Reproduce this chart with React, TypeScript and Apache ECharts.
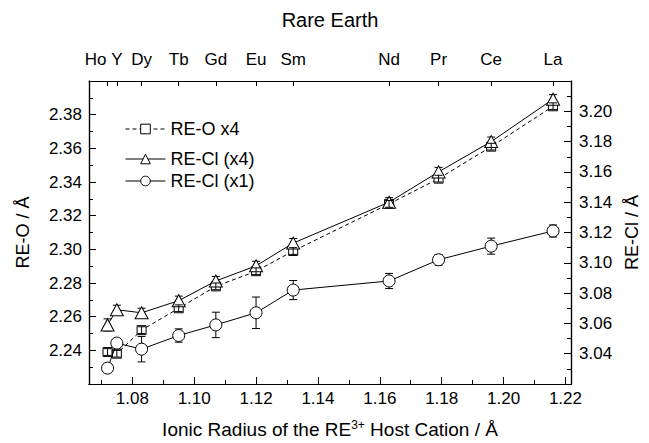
import React, { useEffect, useRef } from "react";
import * as echarts from "echarts";

// Rare earth cations and their ionic radii (Å)
const elements = ["Ho", "Y", "Dy", "Tb", "Gd", "Eu", "Sm", "Nd", "Pr", "Ce", "La"];
const radii = [1.072, 1.075, 1.083, 1.095, 1.107, 1.12, 1.132, 1.163, 1.179, 1.196, 1.216];

// RE-O x4 (left axis)
const reO = [2.239, 2.238, 2.252, 2.265, 2.278, 2.287, 2.299, 2.327, 2.342, 2.361, 2.385];
const reOErr = [0.002, 0.002, 0.002, 0.002, 0.002, 0.002, 0.002, 0.002, 0.002, 0.002, 0.002];

// RE-Cl (x4) (right axis)
const reCl4 = [3.059, 3.069, 3.067, 3.075, 3.088, 3.098, 3.113, 3.14, 3.16, 3.18, 3.208];
const reCl4Err = [0.004, 0.003, 0.003, 0.003, 0.003, 0.003, 0.003, 0.003, 0.003, 0.003, 0.003];

// RE-Cl (x1) (right axis)
const reCl1 = [3.0305, 3.047, 3.043, 3.052, 3.059, 3.067, 3.082, 3.088, 3.102, 3.111, 3.121];
const reCl1Err = [0.003, 0.003, 0.0084, 0.0044, 0.0084, 0.0104, 0.0063, 0.005, 0.0035, 0.0053, 0.004];

// Tick values
const bottomMajor = [1.08, 1.1, 1.12, 1.14, 1.16, 1.18, 1.2, 1.22];
const bottomMinor = [1.07, 1.09, 1.11, 1.13, 1.15, 1.17, 1.19, 1.21];
const leftMajor = [2.24, 2.26, 2.28, 2.3, 2.32, 2.34, 2.36, 2.38];
const leftMinor = [2.23, 2.25, 2.27, 2.29, 2.31, 2.33, 2.35, 2.37, 2.39];
const rightMajor = [3.04, 3.06, 3.08, 3.1, 3.12, 3.14, 3.16, 3.18, 3.2];
const rightMinor = [3.03, 3.05, 3.07, 3.09, 3.11, 3.13, 3.15, 3.17, 3.19, 3.21];

const FONT = "'Liberation Sans', Arial, Helvetica, sans-serif";
const BLACK = "#000";

function fmt2(v: number) {
  return v.toFixed(2);
}

function errRender(params: any, api: any) {
  const x = api.value(0);
  const y = api.value(1);
  const e = api.value(2);
  const lo = api.coord([x, y - e]);
  const hi = api.coord([x, y + e]);
  const w = 4;
  const st = { stroke: BLACK, lineWidth: 1 };
  return {
    type: "group",
    children: [
      { type: "line", shape: { x1: lo[0], y1: lo[1], x2: hi[0], y2: hi[1] }, style: st },
      { type: "line", shape: { x1: lo[0] - w, y1: lo[1], x2: lo[0] + w, y2: lo[1] }, style: st },
      { type: "line", shape: { x1: hi[0] - w, y1: hi[1], x2: hi[0] + w, y2: hi[1] }, style: st },
    ],
  };
}

export default function App() {
  const ref = useRef<HTMLDivElement>(null);

  useEffect(() => {
    if (!ref.current) return;
    const chart = echarts.init(ref.current, null, { renderer: "svg" });

    const xMin = 1.066;
    const xMax = 1.2218;

    const baseValueAxis = {
      type: "value",
      splitLine: { show: false },
      axisLine: { show: true, onZero: false, lineStyle: { color: BLACK, width: 1.2 } },
    };

    const legendBase = {
      left: 120,
      itemWidth: 40,
      itemHeight: 12,
      textStyle: { fontFamily: FONT, fontSize: 18, color: BLACK },
      selectedMode: false,
      lineStyle: { width: 1 },
      itemStyle: { borderWidth: 1 },
    };

    const option: any = {
      animation: false,
      backgroundColor: "#fff",
      textStyle: { fontFamily: FONT, color: BLACK },
      grid: {
        left: 89,
        right: 78,
        top: 81,
        bottom: 59,
        containLabel: false,
        outerBoundsMode: "none",
      },
      legend: [
        { ...legendBase, data: ["RE-O x4"], top: 115 },
        { ...legendBase, data: ["RE-Cl (x4)"], top: 145 },
        { ...legendBase, data: ["RE-Cl (x1)"], top: 167 },
      ],
      xAxis: [
        {
          ...baseValueAxis,
          position: "bottom",
          min: xMin,
          max: xMax,
          axisTick: { show: true, inside: true, length: 7, customValues: bottomMajor, lineStyle: { color: BLACK } },
          axisLabel: {
            customValues: bottomMajor,
            formatter: fmt2,
            fontFamily: FONT,
            fontSize: 17,
            color: BLACK,
            margin: 6,
          },
          name: "Ionic Radius of the RE{sup|3+} Host Cation / Å",
          nameLocation: "middle",
          nameGap: 35,
          nameTextStyle: {
            fontFamily: FONT,
            fontSize: 19,
            color: BLACK,
            rich: {
              sup: { fontFamily: FONT, fontSize: 12, color: BLACK, verticalAlign: "top", padding: [0, 0, 9, 0] },
            },
          },
        },
        {
          ...baseValueAxis,
          position: "bottom",
          min: xMin,
          max: xMax,
          axisTick: { show: true, inside: true, length: 4, customValues: bottomMinor, lineStyle: { color: BLACK } },
          axisLabel: { show: false },
        },
        {
          ...baseValueAxis,
          position: "top",
          min: xMin,
          max: xMax,
          axisTick: { show: true, inside: true, length: 5, customValues: radii, lineStyle: { color: BLACK } },
          axisLabel: {
            customValues: radii,
            fontFamily: FONT,
            fontSize: 17,
            color: BLACK,
            margin: 13,
            formatter: (v: number) => {
              const i = radii.findIndex((r) => Math.abs(r - v) < 1e-6);
              const n = i >= 0 ? elements[i] : "";
              return n === "Ho" ? "{ho|Ho}" : n;
            },
            rich: {
              ho: { fontFamily: FONT, fontSize: 17, color: BLACK, padding: [0, 24, 0, 0] },
            },
          },
          name: "Rare Earth",
          nameLocation: "middle",
          nameGap: 51,
          nameTextStyle: { fontFamily: FONT, fontSize: 20, color: BLACK },
        },
      ],
      yAxis: [
        {
          ...baseValueAxis,
          position: "left",
          min: 2.22,
          max: 2.4,
          axisTick: { show: true, inside: true, length: 7, customValues: leftMajor, lineStyle: { color: BLACK } },
          axisLabel: {
            customValues: leftMajor,
            formatter: fmt2,
            fontFamily: FONT,
            fontSize: 17,
            color: BLACK,
            margin: 7,
          },
          name: "RE-O / Å",
          nameLocation: "middle",
          nameRotate: 90,
          nameGap: 57,
          nameTextStyle: { fontFamily: FONT, fontSize: 18, color: BLACK },
        },
        {
          ...baseValueAxis,
          position: "left",
          min: 2.22,
          max: 2.4,
          axisTick: { show: true, inside: true, length: 4, customValues: leftMinor, lineStyle: { color: BLACK } },
          axisLabel: { show: false },
        },
        {
          ...baseValueAxis,
          position: "right",
          min: 3.02,
          max: 3.22,
          axisTick: { show: true, inside: true, length: 7, customValues: rightMajor, lineStyle: { color: BLACK } },
          axisLabel: {
            customValues: rightMajor,
            formatter: fmt2,
            fontFamily: FONT,
            fontSize: 17,
            color: BLACK,
            margin: 8,
          },
          name: "RE-Cl / Å",
          nameLocation: "middle",
          nameRotate: 90,
          nameGap: 51,
          nameTextStyle: { fontFamily: FONT, fontSize: 18, color: BLACK },
        },
        {
          ...baseValueAxis,
          position: "right",
          min: 3.02,
          max: 3.22,
          axisTick: { show: true, inside: true, length: 4, customValues: rightMinor, lineStyle: { color: BLACK } },
          axisLabel: { show: false },
        },
      ],
      series: [
        {
          name: "RE-O x4",
          type: "line",
          xAxisIndex: 0,
          yAxisIndex: 0,
          data: radii.map((r, i) => [r, reO[i]]),
          symbol: "rect",
          symbolSize: 9,
          lineStyle: { color: BLACK, width: 1, type: [4, 3] },
          itemStyle: { color: "#fff", borderColor: BLACK, borderWidth: 1 },
          z: 2,
        },
        {
          type: "custom",
          xAxisIndex: 0,
          yAxisIndex: 0,
          data: radii.map((r, i) => [r, reO[i], reOErr[i]]),
          renderItem: errRender,
          z: 4,
          silent: true,
        },
        {
          name: "RE-Cl (x4)",
          type: "line",
          xAxisIndex: 0,
          yAxisIndex: 2,
          data: radii.map((r, i) => [r, reCl4[i]]),
          symbol: "triangle",
          symbolSize: [13, 12],
          lineStyle: { color: BLACK, width: 1 },
          itemStyle: { color: "#fff", borderColor: BLACK, borderWidth: 1 },
          z: 3,
        },
        {
          type: "custom",
          xAxisIndex: 0,
          yAxisIndex: 2,
          data: radii.map((r, i) => [r, reCl4[i], reCl4Err[i]]),
          renderItem: errRender,
          z: 2,
          silent: true,
        },
        {
          name: "RE-Cl (x1)",
          type: "line",
          xAxisIndex: 0,
          yAxisIndex: 2,
          data: radii.map((r, i) => [r, reCl1[i]]),
          symbol: "circle",
          symbolSize: 12,
          lineStyle: { color: BLACK, width: 1 },
          itemStyle: { color: "#fff", borderColor: BLACK, borderWidth: 1 },
          z: 3,
        },
        {
          type: "custom",
          xAxisIndex: 0,
          yAxisIndex: 2,
          data: radii.map((r, i) => [r, reCl1[i], reCl1Err[i]]),
          renderItem: errRender,
          z: 2,
          silent: true,
        },
      ],
    };

    chart.setOption(option);
    return () => {
      chart.dispose();
    };
  }, []);

  return (
    <div
      ref={ref}
      style={{ position: "absolute", left: 0, top: 0, width: 649, height: 443, background: "#fff" }}
    />
  );
}
